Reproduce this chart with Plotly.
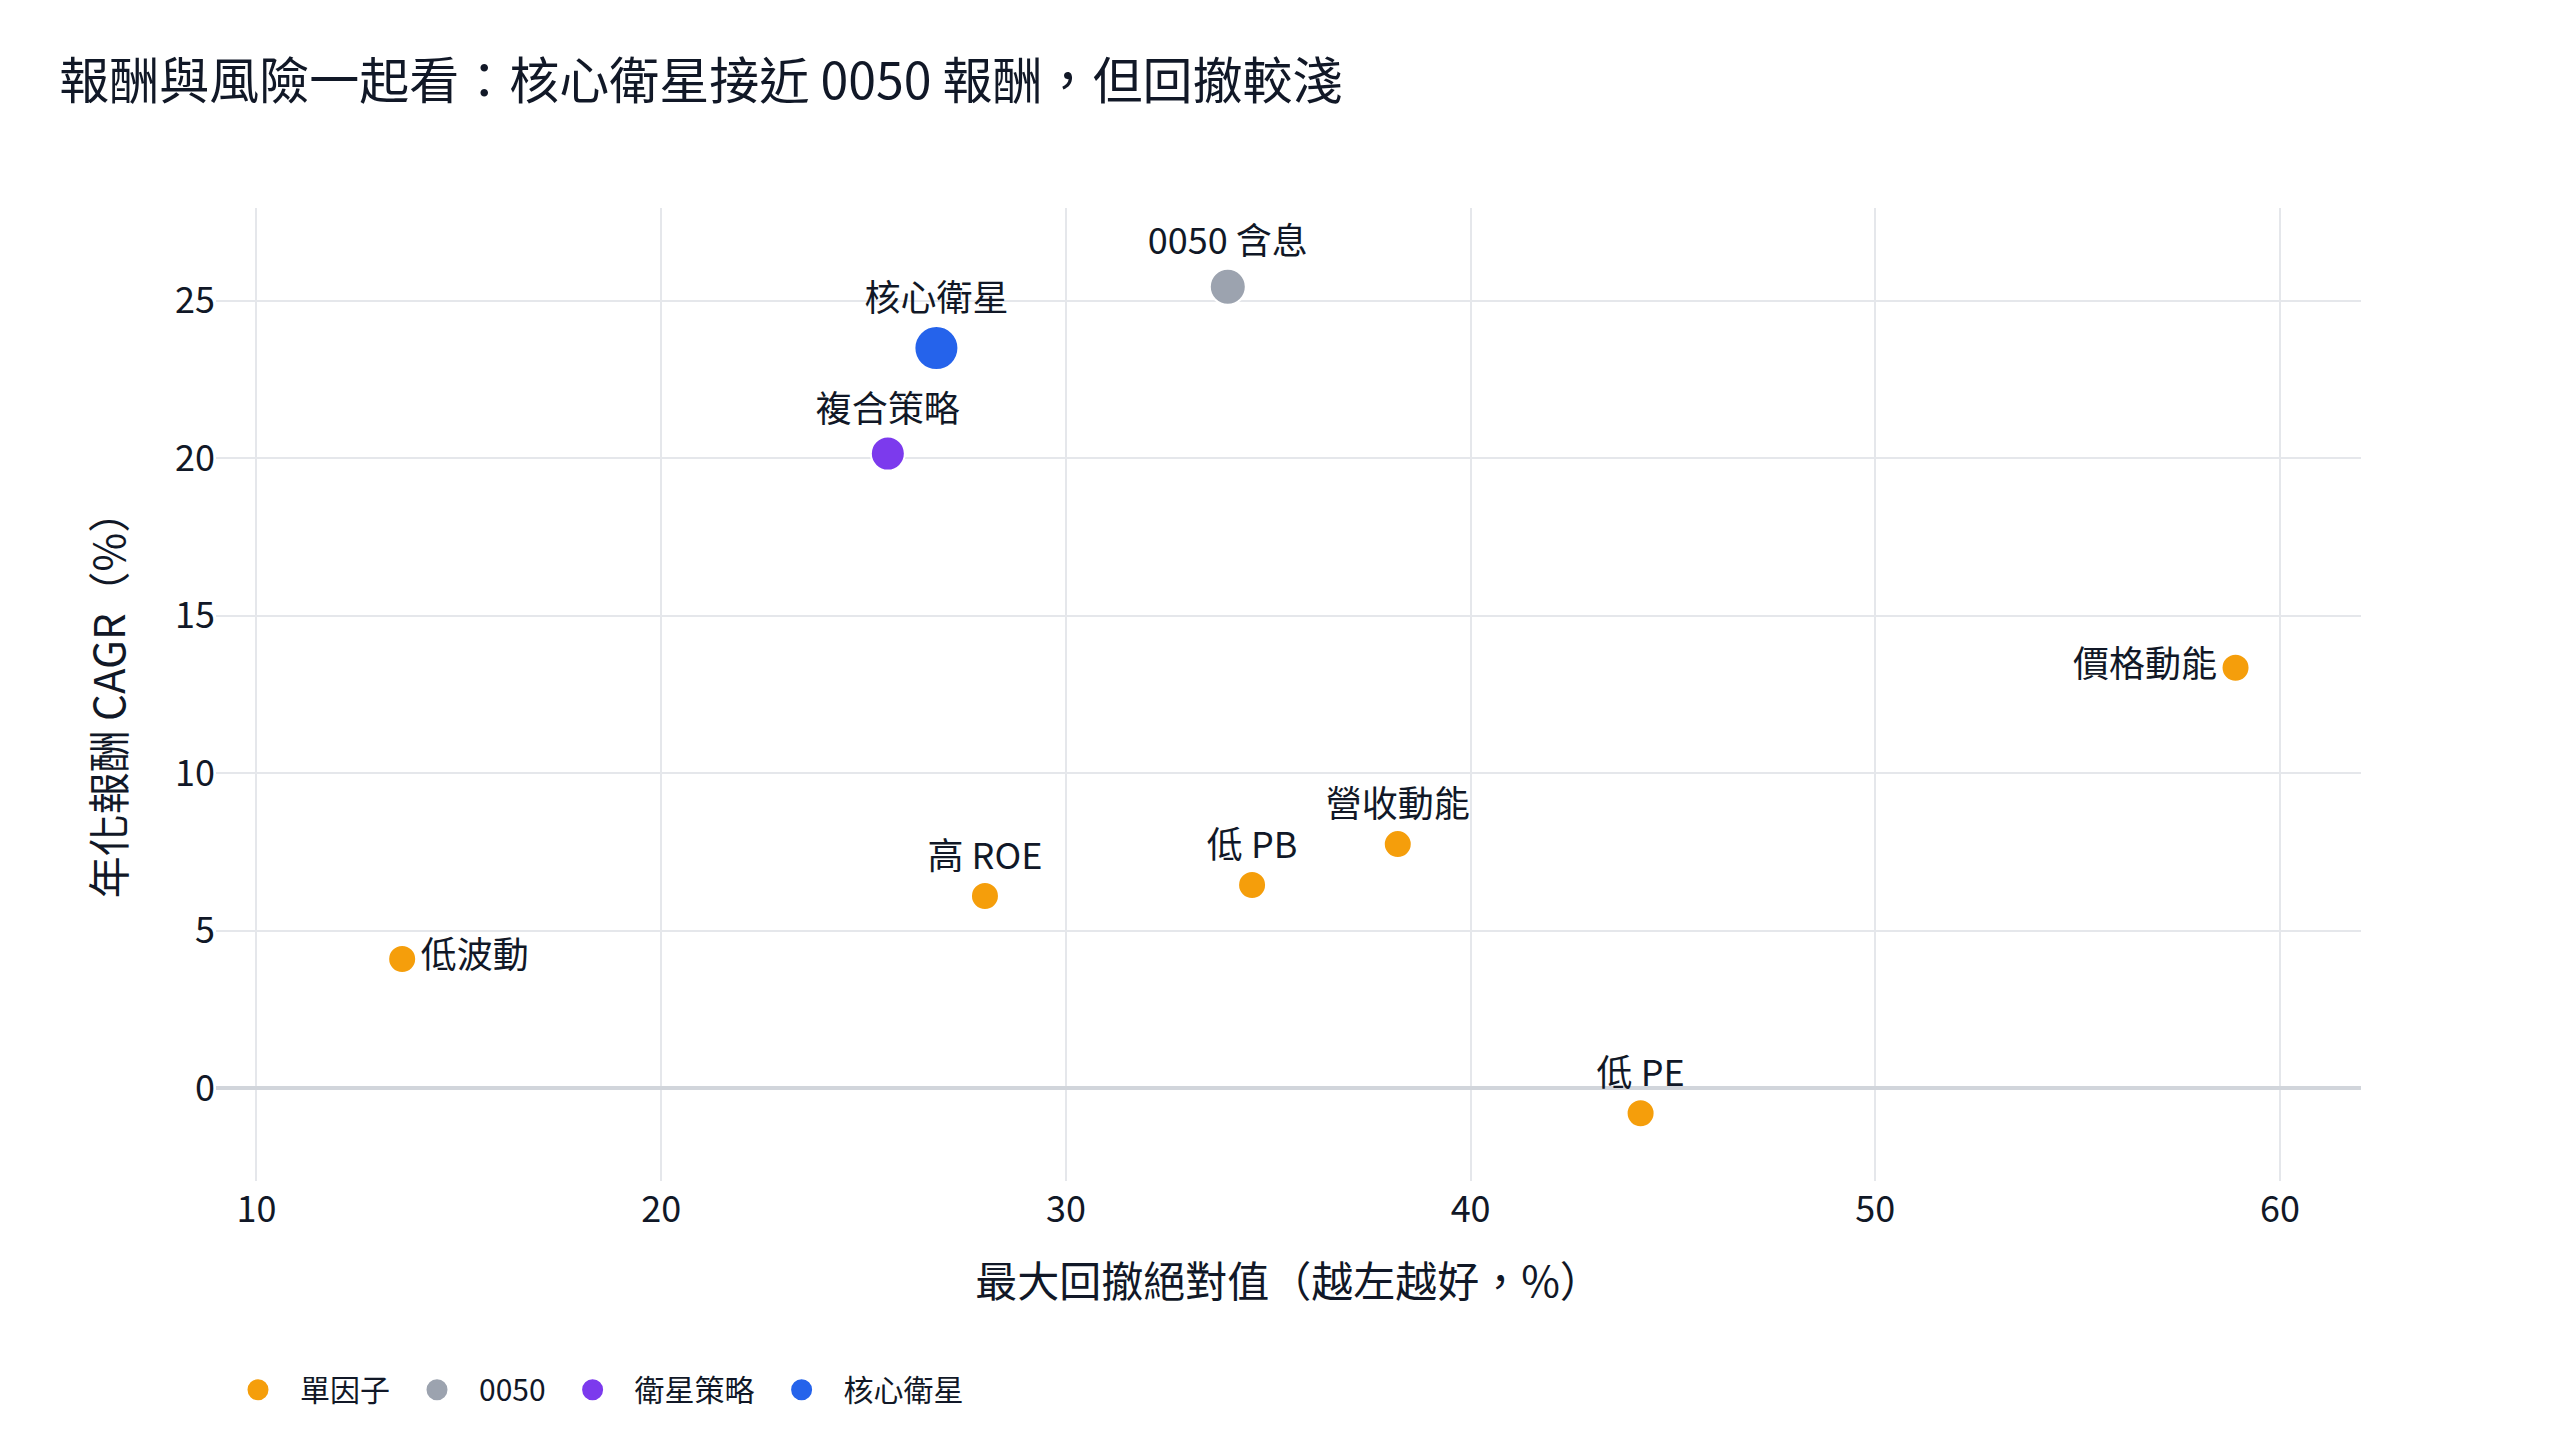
import plotly.graph_objects as go

# 策略點：最大回撤絕對值 (%) 與年化報酬 CAGR (%)
names = ["低波動", "高 ROE", "低 PB", "營收動能", "低 PE", "價格動能", "0050 含息", "複合策略", "核心衛星"]
groups = ["單因子", "單因子", "單因子", "單因子", "單因子", "單因子", "0050", "衛星策略", "核心衛星"]
max_dd = [13.6, 28.0, 34.6, 38.2, 44.2, 58.9, 34.0, 25.6, 26.8]
cagr = [4.1, 6.1, 6.45, 7.75, -0.8, 13.35, 25.45, 20.15, 23.5]
text_pos = ["middle right", "top center", "top center", "top center", "top center",
            "middle left", "top center", "top center", "top center"]

group_order = ["單因子", "0050", "衛星策略", "核心衛星"]
group_color = {"單因子": "#F59E0B", "0050": "#9CA3AF", "衛星策略": "#7C3AED", "核心衛星": "#2563EB"}
group_size = {"單因子": 28, "0050": 36, "衛星策略": 34, "核心衛星": 44}
legend_size = {"單因子": 20, "0050": 24, "衛星策略": 24, "核心衛星": 24}

FONT = "Noto Sans CJK TC"
INK = "#111827"

fig = go.Figure()
for g in group_order:
    idx = [i for i, gg in enumerate(groups) if gg == g]
    fig.add_trace(go.Scatter(
        x=[max_dd[i] for i in idx],
        y=[cagr[i] for i in idx],
        text=[names[i] for i in idx],
        textposition=[text_pos[i] for i in idx],
        mode="markers+text",
        name=g,
        showlegend=False,
        marker=dict(size=group_size[g], color=group_color[g], line=dict(color="white", width=2)),
        textfont=dict(family=FONT, size=36, color=INK),
    ))
    # 圖例用的空點（讓圖例符號大一點）
    fig.add_trace(go.Scatter(
        x=[None], y=[None], mode="markers", name=g,
        marker=dict(size=legend_size[g], color=group_color[g], line=dict(color=group_color[g], width=5)),
    ))

fig.update_layout(
    width=2560,
    height=1440,
    paper_bgcolor="white",
    plot_bgcolor="white",
    font=dict(family=FONT, size=26, color=INK),
    title=dict(
        text="報酬與風險一起看：核心衛星接近 0050 報酬，但回撤較淺",
        x=0.02, xanchor="left", y=0.949, yanchor="middle",
        font=dict(family=FONT, size=50, color=INK),
    ),
    margin=dict(l=208, r=207, t=200, b=267),
    legend=dict(
        orientation="h", x=0, xanchor="left", y=-0.2145, yanchor="middle",
        font=dict(family=FONT, size=30, color=INK),
        itemwidth=74,
    ),
    xaxis=dict(
        title=dict(text="最大回撤絕對值（越左越好，%）", font=dict(family=FONT, size=42, color=INK), standoff=36),
        range=[9, 62], dtick=10, showgrid=True, gridcolor="#E5E7EB", gridwidth=2,
        zeroline=False, showline=False, ticks="", ticklabelstandoff=4,
        tickfont=dict(family=FONT, size=36, color=INK),
    ),
    yaxis=dict(
        title=dict(text="年化報酬 CAGR（%）", font=dict(family=FONT, size=42, color=INK), standoff=36),
        range=[-2.95, 27.95], dtick=5, showgrid=True, gridcolor="#E5E7EB", gridwidth=2,
        zeroline=True, zerolinecolor="#D1D5DB", zerolinewidth=4, showline=False, ticks="",
        tickfont=dict(family=FONT, size=36, color=INK),
    ),
)

fig.write_html("out.html")
